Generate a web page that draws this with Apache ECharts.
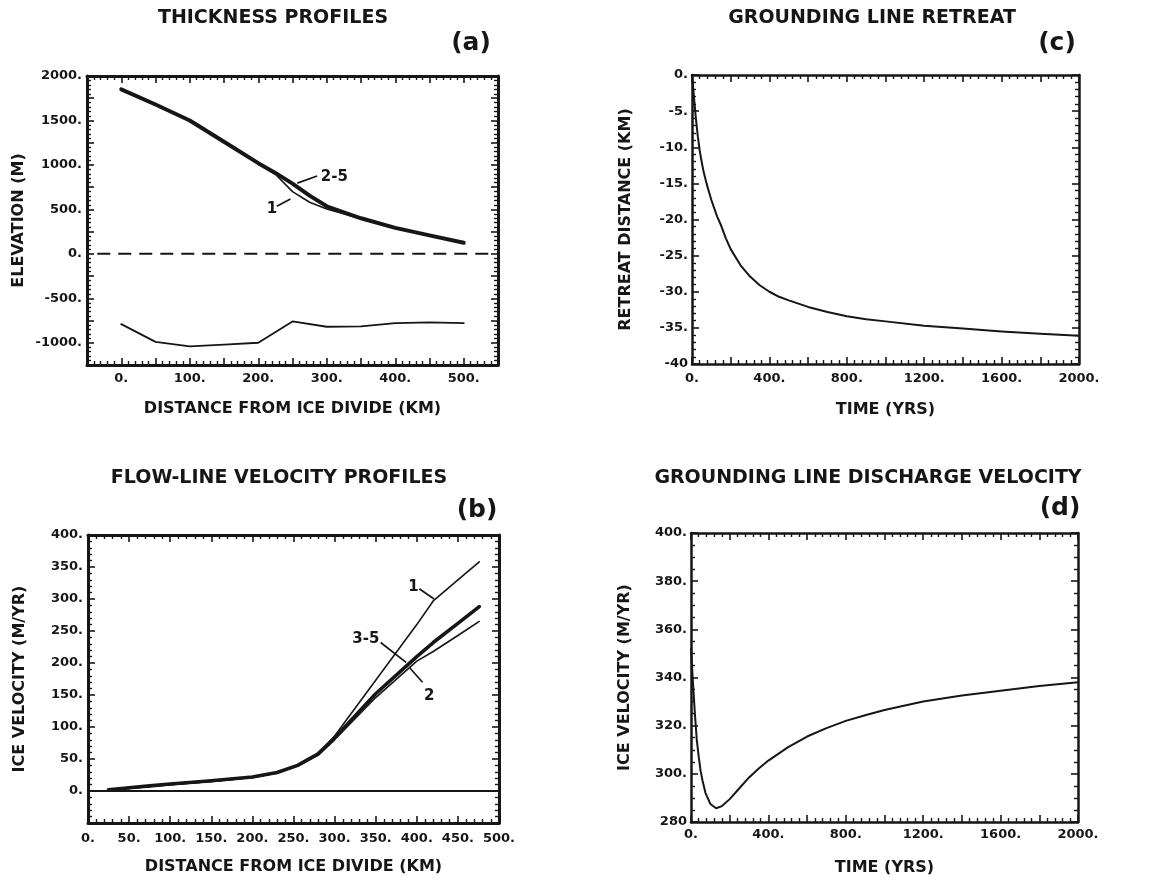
<!DOCTYPE html>
<html>
<head>
<meta charset="utf-8">
<script src="https://cdn.jsdelivr.net/npm/echarts@6/dist/echarts.min.js"></script>
<style>
  html, body { margin: 0; padding: 0; background: #ffffff; }
  #chart { width: 1175px; height: 882px; }
</style>
</head>
<body>
<div id="chart"></div>
<script>
const INK = '#161616';
const FONT = 'DejaVu Sans';

// (a) Thickness profiles: surface elevation of runs and bed elevation (m)
const distA = [0, 50, 100, 150, 200, 225, 250, 275, 300, 350, 400, 450, 500];
const surfaceRuns2to5 = [1850, 1680, 1500, 1260, 1020, 910, 790, 655, 535, 400, 292, 208, 125];
const surfaceRun1 = [1850, 1680, 1500, 1260, 1020, 895, 700, 580, 505, 395, 290, 206, 123];
const distBed = [0, 50, 100, 150, 200, 250, 300, 350, 400, 450, 500];
const bedElevation = [-790, -990, -1040, -1020, -1000, -760, -820, -815, -780, -770, -780];
const seaLevelDist = [-35, 545];
const seaLevelElev = [0, 0];
const xLabelsA = [0, 100, 200, 300, 400, 500];
const yLabelsA = [-1000, -500, 0, 500, 1000, 1500, 2000];
const notesA = ['2-5', '1'];
const notesAtA = [[311, 864], [220, 503]];
const leadersA = [[[257, 795], [286, 875]], [[227, 534], [247, 617]]];

// (b) Flow-line velocity profiles (m/yr)
const distB = [25, 50, 75, 100, 150, 200, 230, 255, 280, 300, 350, 400, 420, 450, 476];
const velocityRun1 = [1, 4, 7, 10, 15, 21, 28, 40, 58, 86, 173, 260, 297, 330, 358];
const velocityRun2 = [1, 4, 7, 10, 15, 21, 28, 39, 56, 80, 146, 203, 218, 243, 265];
const velocityRuns3to5 = [2, 5, 8, 11, 16, 22, 29, 40, 58, 83, 152, 210, 232, 262, 288];
const zeroDist = [0, 500];
const zeroVel = [0, 0];
const xLabelsB = [0, 50, 100, 150, 200, 250, 300, 350, 400, 450, 500];
const yLabelsB = [0, 50, 100, 150, 200, 250, 300, 350, 400];
const notesB = ['1', '3-5', '2'];
const notesAtB = [[396, 319], [338, 237], [415, 149]];
const leadersB = [[[403, 316], [421, 300]], [[356, 232], [387, 201]], [[391, 193], [407, 170]]];

// (c) Grounding line retreat (km) against time (yr)
const timeC = [0, 10, 20, 30, 40, 50, 60, 75, 100, 130, 150, 175, 200, 250, 300, 350, 400, 450, 500, 600, 700, 800, 900, 1000, 1200, 1400, 1600, 1800, 2000];
const retreatKm = [0, -3, -6, -8.5, -10.5, -12, -13.4, -15, -17.3, -19.6, -20.8, -22.6, -24.1, -26.3, -27.9, -29.1, -30, -30.7, -31.2, -32.1, -32.8, -33.4, -33.8, -34.1, -34.7, -35.1, -35.5, -35.8, -36.1];
const xLabelsC = [0, 400, 800, 1200, 1600, 2000];
const yLabelsC = [0, -5, -10, -15, -20, -25, -30, -35, -40];

// (d) Grounding line discharge velocity (m/yr) against time (yr)
const timeD = [0, 10, 20, 30, 40, 50, 60, 75, 100, 130, 160, 200, 250, 300, 350, 400, 500, 600, 700, 800, 900, 1000, 1200, 1400, 1600, 1800, 2000];
const dischargeVel = [352, 338, 325, 314, 307, 301, 297, 292, 287.5, 285.7, 286.6, 289.5, 294, 298.5, 302.2, 305.5, 311, 315.5, 319, 322, 324.3, 326.5, 330, 332.5, 334.5, 336.5, 338];
const xLabelsD = [0, 400, 800, 1200, 1600, 2000];
const yLabelsD = [280, 300, 320, 340, 360, 380, 400];

const titles = ['THICKNESS PROFILES', 'FLOW-LINE VELOCITY PROFILES', 'GROUNDING LINE RETREAT', 'GROUNDING LINE DISCHARGE VELOCITY'];
const panelTags = ['(a)', '(b)', '(c)', '(d)'];

const grids = [
  { left: 87, top: 76, width: 411, height: 289 },
  { left: 88, top: 535, width: 411, height: 288 },
  { left: 692, top: 75, width: 387, height: 289 },
  { left: 691, top: 533, width: 387, height: 289 }
];

// label text: listed values get a trailing point, the corner value is printed bare
function labeler(list, bare) {
  return function (v) {
    if (!list.includes(v)) return '';
    return (bare && bare.includes(v)) ? String(v) : v + '.';
  };
}

function framedAxes(dim, gridIndex, cfg) {
  const base = {
    type: 'value', gridIndex: gridIndex,
    min: cfg.min, max: cfg.max, interval: cfg.interval,
    splitLine: { show: false },
    minorSplitLine: { show: false },
    axisLine: { show: true, onZero: false, lineStyle: { color: INK, width: cfg.frame } },
    axisTick: { show: true, inside: true, length: 7, lineStyle: { color: INK, width: 1.6 } },
    minorTick: { show: true, splitNumber: cfg.minor, length: 4, lineStyle: { color: INK, width: 1.4 } },
    animation: false
  };
  const main = Object.assign({}, base, {
    position: dim === 'x' ? 'bottom' : 'left',
    name: cfg.name, nameLocation: 'middle', nameGap: cfg.nameGap,
    nameTextStyle: { color: INK, fontFamily: FONT, fontWeight: 'bold', fontSize: 16 },
    axisLabel: {
      show: true, margin: cfg.margin, color: INK, fontFamily: FONT, fontWeight: 'bold', fontSize: 13,
      showMinLabel: true, showMaxLabel: true, hideOverlap: false,
      formatter: labeler(cfg.labels, cfg.bare)
    }
  });
  const mirror = Object.assign({}, base, {
    position: dim === 'x' ? 'top' : 'right',
    axisLabel: { show: false }, name: ''
  });
  return [main, mirror];
}

const xAxes = [].concat(
  framedAxes('x', 0, { min: -50, max: 550, interval: 50, minor: 5, frame: 3, labels: xLabelsA, margin: 7, name: 'DISTANCE FROM ICE DIVIDE (KM)', nameGap: 36 }),
  framedAxes('x', 1, { min: 0, max: 500, interval: 50, minor: 5, frame: 3, labels: xLabelsB, margin: 9, name: 'DISTANCE FROM ICE DIVIDE (KM)', nameGap: 36 }),
  framedAxes('x', 2, { min: 0, max: 2000, interval: 200, minor: 5, frame: 2.5, labels: xLabelsC, margin: 8, name: 'TIME (YRS)', nameGap: 38 }),
  framedAxes('x', 3, { min: 0, max: 2000, interval: 200, minor: 5, frame: 2.5, labels: xLabelsD, margin: 6, name: 'TIME (YRS)', nameGap: 38 })
);
const yAxes = [].concat(
  framedAxes('y', 0, { min: -1250, max: 2000, interval: 250, minor: 5, frame: 3, labels: yLabelsA, margin: 5, name: 'ELEVATION (M)', nameGap: 60 }),
  framedAxes('y', 1, { min: -50, max: 400, interval: 50, minor: 5, frame: 3, labels: yLabelsB, margin: 5, name: 'ICE VELOCITY (M/YR)', nameGap: 60 }),
  framedAxes('y', 2, { min: -40, max: 0, interval: 5, minor: 5, frame: 2.5, labels: yLabelsC, bare: [-40], margin: 4, name: 'RETREAT DISTANCE (KM)', nameGap: 58 }),
  framedAxes('y', 3, { min: 280, max: 400, interval: 20, minor: 4, frame: 2.5, labels: yLabelsD, bare: [280], margin: 4, name: 'ICE VELOCITY (M/YR)', nameGap: 58 })
);

const pairs = (xs, ys) => xs.map((x, i) => [x, ys[i]]);

function curve(g, xs, ys, width, extra) {
  return Object.assign({
    type: 'line', xAxisIndex: g * 2, yAxisIndex: g * 2,
    data: pairs(xs, ys), showSymbol: false, symbol: 'none',
    lineStyle: { color: INK, width: width, cap: 'round', join: 'round' },
    silent: true, animation: false, z: 3
  }, extra || {});
}

// run labels with their leader strokes
function notes(g, texts, spots, leaders) {
  return {
    type: 'scatter', xAxisIndex: g * 2, yAxisIndex: g * 2,
    symbol: 'circle', symbolSize: 0.5, silent: true, animation: false, z: 4,
    itemStyle: { color: '#ffffff', opacity: 1 },
    data: texts.map((t, i) => ({ name: t, value: spots[i] })),
    label: {
      show: true, position: 'inside', formatter: '{b}', color: INK, opacity: 1,
      textBorderWidth: 0, fontFamily: FONT, fontWeight: 'bold', fontSize: 15
    },
    markLine: {
      silent: true, animation: false, symbol: ['none', 'none'],
      label: { show: false },
      lineStyle: { color: INK, width: 1.7, type: 'solid', opacity: 1 },
      emphasis: { disabled: true },
      data: leaders.map(([p, q]) => [{ coord: p }, { coord: q }])
    }
  };
}

const series = [
  // (a)
  curve(0, distA, surfaceRun1, 1.6),
  curve(0, distA, surfaceRuns2to5, 4),
  curve(0, distBed, bedElevation, 1.8),
  curve(0, seaLevelDist, seaLevelElev, 2, { lineStyle: { color: INK, width: 2, type: [13, 8] } }),
  notes(0, notesA, notesAtA, leadersA),
  // (b)
  curve(1, zeroDist, zeroVel, 1.8),
  curve(1, distB, velocityRun1, 1.6),
  curve(1, distB, velocityRun2, 1.6),
  curve(1, distB, velocityRuns3to5, 3.6),
  notes(1, notesB, notesAtB, leadersB),
  // (c)
  curve(2, timeC, retreatKm, 2),
  // (d)
  curve(3, timeD, dischargeVel, 2)
];

const titleSpots = [[273, 18], [279, 478], [872, 18], [868, 478]];
const tagSpots = [[471, 43], [477, 510], [1057, 43], [1060, 508]];

const graphic = [].concat(
  titles.map((t, i) => ({
    type: 'text', x: titleSpots[i][0], y: titleSpots[i][1], silent: true,
    style: { text: t, fill: INK, font: 'bold 19px "DejaVu Sans"', textAlign: 'center', textVerticalAlign: 'middle' }
  })),
  panelTags.map((t, i) => ({
    type: 'text', x: tagSpots[i][0], y: tagSpots[i][1], silent: true,
    style: { text: t, fill: INK, font: 'bold 25px "DejaVu Sans"', textAlign: 'center', textVerticalAlign: 'middle' }
  }))
);

const chart = echarts.init(document.getElementById('chart'), null, { renderer: 'canvas' });
chart.setOption({
  backgroundColor: '#ffffff',
  animation: false,
  grid: grids,
  xAxis: xAxes,
  yAxis: yAxes,
  series: series,
  graphic: graphic
});
</script>
</body>
</html>
